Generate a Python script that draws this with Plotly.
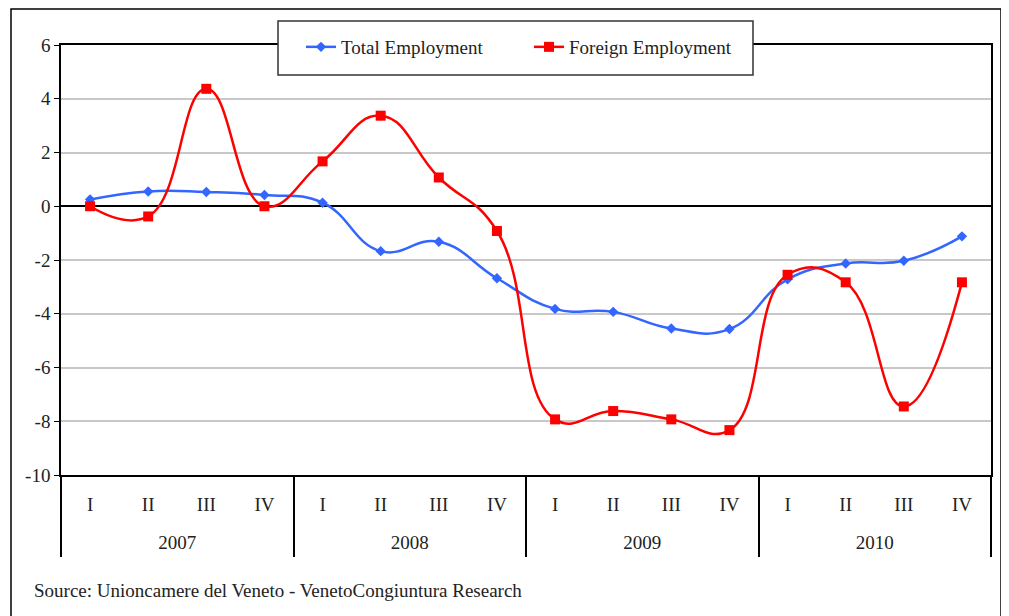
import plotly.graph_objects as go

years = ["2007", "2008", "2009", "2010"]
quarters = ["I", "II", "III", "IV"]
total_employment = [0.25, 0.55, 0.53, 0.42, 0.13, -1.67, -1.32, -2.68,
                    -3.82, -3.93, -4.55, -4.57, -2.72, -2.13, -2.03, -1.12]
foreign_employment = [0.0, -0.38, 4.37, 0.0, 1.67, 3.37, 1.07, -0.92,
                      -7.93, -7.62, -7.93, -8.33, -2.55, -2.83, -7.45, -2.83]
y_ticks = [6, 4, 2, 0, -2, -4, -6, -8, -10]
y_tick_labels = ["6", "4", "2", "0", "-2", "-4", "-6", "-8", "-10"]
source_text = "Source: Unioncamere del Veneto - VenetoCongiuntura Research"

nq = len(quarters)
n = len(years) * nq
xpos = list(range(n))
quarter_labels = [q for _ in years for q in quarters]
year_centers = [i * nq + (nq - 1) / 2 for i in range(len(years))]
group_edges = [i * nq - 0.5 for i in range(len(years) + 1)]

FONT = "Liberation Serif"
OFF = 8  # page body margin
W, H = 1009 - OFF, 616 - OFF
L, R, T, B = 61 - OFF, 991 - OFF, 45 - OFF, 475 - OFF

def px(xp):
    return (xp - OFF - L) / (R - L)

def py(yp):
    return (B - (yp - OFF)) / (B - T)

fig = go.Figure()
fig.add_trace(go.Scatter(
    x=xpos, y=total_employment, name="Total Employment",
    mode="lines+markers", line=dict(color="#3366FF", width=2.5, shape="spline", smoothing=1.3),
    marker=dict(symbol="diamond", size=8, color="#3366FF"),
))
fig.add_trace(go.Scatter(
    x=xpos, y=foreign_employment, name="Foreign Employment",
    mode="lines+markers", line=dict(color="#FF0000", width=2.5, shape="spline", smoothing=1.3),
    marker=dict(symbol="square", size=10, color="#FF0000"),
))
# invisible trace to activate the year axis
fig.add_trace(go.Scatter(x=year_centers, y=[None] * len(years), xaxis="x2",
                         showlegend=False, hoverinfo="skip"))

xrange = [-0.5, n - 0.5]

fig.update_layout(
    width=W, height=H,
    margin=dict(l=L, r=W - R, t=T, b=H - B),
    paper_bgcolor="white", plot_bgcolor="white",
    font=dict(family=FONT, size=19, color="#222222"),
    showlegend=True,
    legend=dict(
        orientation="h", x=px(301), y=py(47), xanchor="left", yanchor="middle",
        bgcolor="rgba(0,0,0,0)", borderwidth=0,
        font=dict(family=FONT, size=19, color="#222222"),
        entrywidth=183, itemwidth=30,
    ),
    xaxis=dict(
        range=xrange, tickmode="array", tickvals=xpos, ticktext=quarter_labels,
        showline=True, linecolor="black", linewidth=1.5, mirror=True,
        showgrid=False, zeroline=False, ticks="", ticklabelstandoff=11,
        minor=dict(tickmode="array", tickvals=group_edges, ticks="outside", ticklen=80,
                   tickwidth=1.5, tickcolor="black", showgrid=False),
        tickfont=dict(family=FONT, size=19, color="#222222"),
    ),
    xaxis2=dict(
        range=xrange, overlaying="x", anchor="y", side="bottom",
        tickmode="array", tickvals=year_centers, ticktext=years,
        showline=False, showgrid=False, zeroline=False, ticks="", ticklabelstandoff=54,
        tickfont=dict(family=FONT, size=19, color="#222222"),
    ),
    yaxis=dict(
        range=[-10, 6], tickvals=y_ticks, ticktext=y_tick_labels,
        showline=True, linecolor="black", linewidth=1.5, mirror=True,
        ticks="outside", ticklen=5, tickcolor="black", showgrid=True, gridcolor="#C8C8C8", gridwidth=1.5,
        zeroline=True, zerolinecolor="black", zerolinewidth=1.5,
        tickfont=dict(family=FONT, size=19, color="#222222"),
    ),
    shapes=[
        dict(type="rect", xref="paper", yref="paper",
             x0=px(11), x1=px(1001), y0=py(660), y1=py(9),
             line=dict(color="black", width=1.5), layer="below"),
        dict(type="rect", xref="paper", yref="paper",
             x0=px(278), x1=px(753), y0=py(75), y1=py(21),
             line=dict(color="#333333", width=1.5), fillcolor="white", layer="above"),
    ],
    annotations=[dict(text=source_text, xref="paper", yref="paper",
                      x=px(32), y=py(590), xanchor="left", yanchor="middle",
                      showarrow=False, font=dict(family=FONT, size=19, color="#222222"))],
)

fig.write_html("out.html")
